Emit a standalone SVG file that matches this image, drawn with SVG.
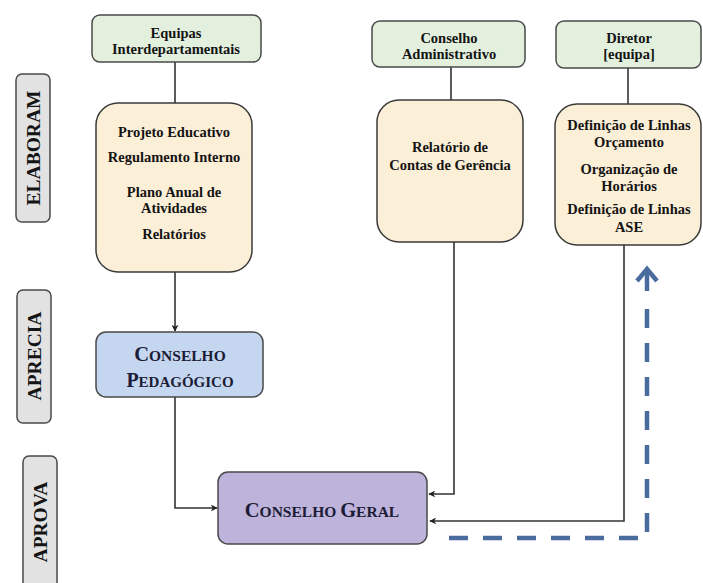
<svg xmlns="http://www.w3.org/2000/svg" width="703" height="583" viewBox="0 0 703 583">
<defs>
<style>
.t{font-family:"Liberation Serif","Times New Roman",serif;font-weight:bold;font-size:14.5px;fill:#141414;text-anchor:middle}
.sc{font-family:"Liberation Serif","Times New Roman",serif;font-weight:bold;fill:#1c1c36;text-anchor:middle}
.lbl{font-family:"Liberation Serif","Times New Roman",serif;font-weight:bold;font-size:19.5px;fill:#141414;text-anchor:middle}
.green{fill:#e3f0de;stroke:#4a4a4a;stroke-width:1.5}
.yellow{fill:#fcefd7;stroke:#3a3a3a;stroke-width:1.5}
.blue{fill:#c5d6f0;stroke:#4a4a4a;stroke-width:1.5}
.purple{fill:#bdb3db;stroke:#4a4a4a;stroke-width:1.5}
.gray{fill:#e2e2e2;stroke:#4a4a4a;stroke-width:1.5}
.c{fill:none;stroke:#333;stroke-width:1.6}
.dash{fill:none;stroke:#4a6b9d;stroke-width:4.5;stroke-dasharray:19 15}
</style>
<marker id="ah" viewBox="0 0 10 10" refX="9" refY="5" markerWidth="7" markerHeight="7" markerUnits="userSpaceOnUse" orient="auto">
<path d="M0,0 L10,5 L0,10 L3,5 Z" fill="#222"/>
</marker>
</defs>
<rect width="703" height="583" fill="#ffffff"/>

<g id="label-elaboram">
<rect class="gray" x="16" y="74" width="34" height="148" rx="6"/>
<text class="lbl" transform="translate(33,148) rotate(-90)" y="6.5">ELABORAM</text>
</g>
<g id="label-aprecia">
<rect class="gray" x="17" y="290" width="34" height="133" rx="6"/>
<text class="lbl" transform="translate(34,356) rotate(-90)" y="6.5">APRECIA</text>
</g>
<g id="label-aprova">
<rect class="gray" x="23" y="456" width="34" height="140" rx="6"/>
<text class="lbl" transform="translate(40,522) rotate(-90)" y="6.5">APROVA</text>
</g>

<g id="connectors">
<line class="c" x1="175" y1="62" x2="175" y2="103"/>
<line class="c" x1="175" y1="272" x2="175" y2="331" marker-end="url(#ah)"/>
<path class="c" d="M175,397 V508 H217" marker-end="url(#ah)"/>
<line class="c" x1="451" y1="67" x2="451" y2="100"/>
<path class="c" d="M454,242 V494 H429" marker-end="url(#ah)"/>
<line class="c" x1="628" y1="68" x2="628" y2="104"/>
<path class="c" d="M624,245 V521 H430" marker-end="url(#ah)"/>
<path class="dash" d="M449,538 H647 V307"/>
<path d="M647,291 V271" fill="none" stroke="#4a6b9d" stroke-width="4.5"/>
<path d="M637,281 L647,269 L657,281" fill="none" stroke="#4a6b9d" stroke-width="4.5" stroke-linejoin="miter"/>
</g>

<g id="equipas">
<rect class="green" x="92" y="15" width="169" height="47" rx="8"/>
<text class="t" x="176" y="38">Equipas</text>
<text class="t" x="176" y="54">Interdepartamentais</text>
</g>

<g id="elaboram-equipas">
<rect class="yellow" x="96" y="103" width="156" height="169" rx="22"/>
<text class="t" x="174" y="137">Projeto Educativo</text>
<text class="t" x="174" y="162">Regulamento Interno</text>
<text class="t" x="174" y="197">Plano Anual de</text>
<text class="t" x="174" y="213">Atividades</text>
<text class="t" x="174" y="239">Relatórios</text>
</g>

<g id="conselho-administrativo">
<rect class="green" x="372" y="21" width="153" height="46" rx="8"/>
<text class="t" x="449" y="43">Conselho</text>
<text class="t" x="449" y="59">Administrativo</text>
</g>

<g id="relatorio-contas">
<rect class="yellow" x="377" y="100" width="146" height="142" rx="22"/>
<text class="t" x="450" y="152">Relatório de</text>
<text class="t" x="450" y="170">Contas de Gerência</text>
</g>

<g id="diretor">
<rect class="green" x="556" y="21" width="145" height="47" rx="8"/>
<text class="t" x="629" y="43">Diretor</text>
<text class="t" x="629" y="59">[equipa]</text>
</g>

<g id="definicoes">
<rect class="yellow" x="555" y="104" width="146" height="141" rx="22"/>
<text class="t" x="629" y="130">Definição de Linhas</text>
<text class="t" x="629" y="147">Orçamento</text>
<text class="t" x="629" y="174">Organização de</text>
<text class="t" x="629" y="191">Horários</text>
<text class="t" x="629" y="214">Definição de Linhas</text>
<text class="t" x="629" y="232">ASE</text>
</g>

<g id="conselho-pedagogico">
<rect class="blue" x="96" y="332" width="167" height="65" rx="10"/>
<text class="sc" x="180" y="361"><tspan font-size="20.5">C</tspan><tspan font-size="15.5">ONSELHO</tspan></text>
<text class="sc" x="180" y="387"><tspan font-size="20">P</tspan><tspan font-size="15">EDAGÓGICO</tspan></text>
</g>

<g id="conselho-geral">
<rect class="purple" x="218" y="472" width="209" height="72" rx="10"/>
<text class="sc" x="322" y="517"><tspan font-size="20.5">C</tspan><tspan font-size="15.5">ONSELHO </tspan><tspan font-size="20.5">G</tspan><tspan font-size="15.5">ERAL</tspan></text>
</g>
</svg>
